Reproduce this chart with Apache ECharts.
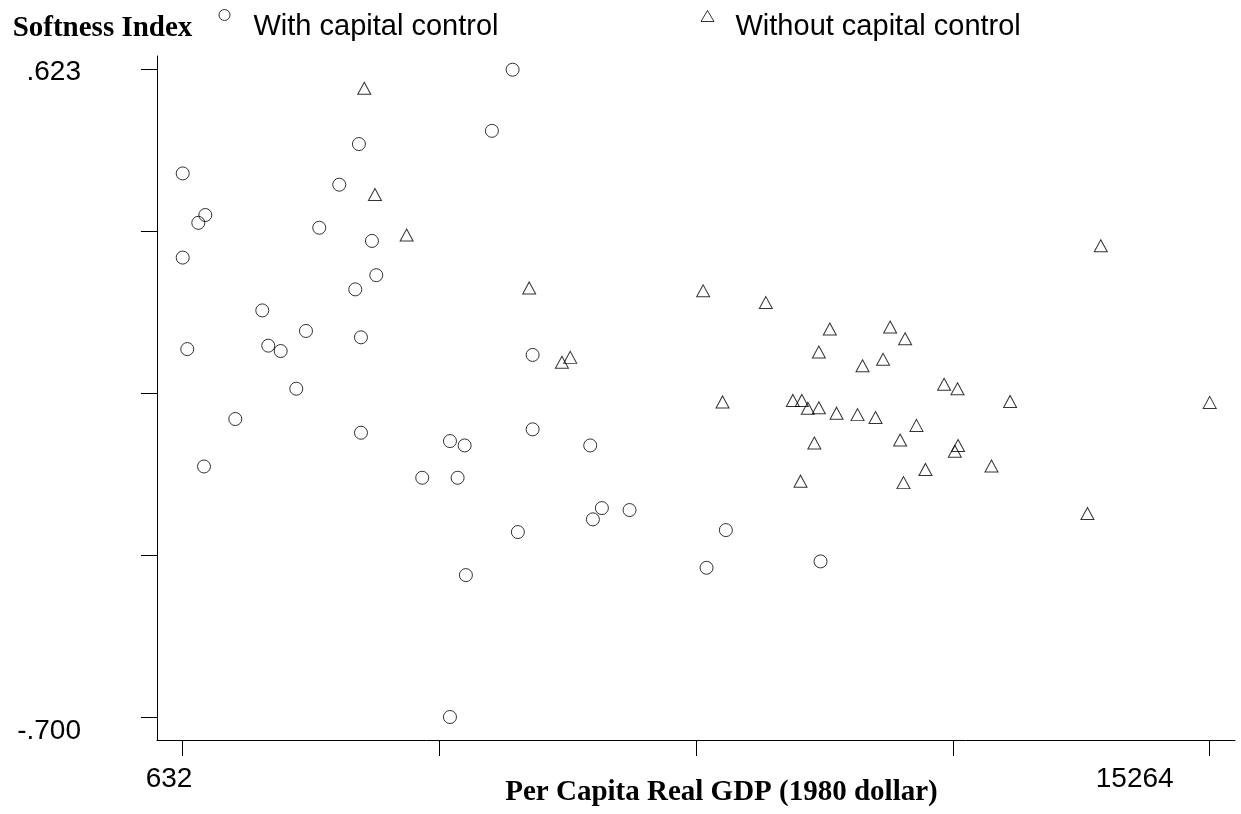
<!DOCTYPE html>
<html>
<head>
<meta charset="utf-8">
<script src="https://cdn.jsdelivr.net/npm/echarts@6/dist/echarts.min.js"></script>
<style>
html, body { margin: 0; padding: 0; background: #fff; }
#main { width: 1241px; height: 814px; }
</style>
</head>
<body>
<div id="main"></div>
<script>
// countries with capital control: per capita real GDP (1980 dollar) / softness index
const withGdp = [642, 964, 864, 642, 707, 945, 1391, 1775, 1860, 2037, 2259, 2397, 2586,
	2871, 3151, 3099, 3180, 3336, 3398, 3180, 4052, 4447, 4656, 4556, 4674, 4447, 5044,
	5339, 5414, 5624, 5624, 6444, 6482, 6610, 7004, 8100, 8375, 9723];
const withSoft = [0.411, 0.326, 0.310, 0.239, 0.052, -0.188, -0.091, 0.131, 0.059, 0.048, -0.029, 0.089, 0.300,
	0.388, 0.471, 0.174, 0.076, 0.273, 0.203, -0.119, -0.211, -0.136, -0.145, -0.211, -0.410, -0.700, 0.498,
	0.623, -0.322, 0.040, -0.112, -0.145, -0.296, -0.273, -0.277, -0.395, -0.318, -0.382];

// countries without capital control
const withoutGdp = [3227, 3379, 3830, 5575, 6041, 6159, 8052, 8328, 8944, 9329, 9457, 9542, 9699,
	9438, 9635, 9699, 9855, 9951, 10250, 10321, 10506, 10614, 10714, 10927, 10856, 10904, 11089,
	11217, 11482, 11673, 11681, 11635, 12157, 12422, 13523, 13713, 15264];
const withoutSoft = [0.585, 0.368, 0.285, 0.177, 0.025, 0.035, 0.171, -0.056, 0.147, -0.053, -0.053, -0.069, -0.068,
	-0.218, -0.140, 0.046, 0.093, -0.079, -0.082, 0.018, -0.088, 0.031, 0.097, 0.073, -0.134, -0.221, -0.104,
	-0.194, -0.020, -0.029, -0.145, -0.157, -0.187, -0.055, -0.284, 0.263, -0.057];

// axis ticks and the two labelled ends
const xTicks = [632, 4290, 7948, 11606, 15264];
const xLabelValues = [632, 15264];
const xLabels = ['632', '15264'];
const yTicks = [0.623, 0.29225, -0.0385, -0.36925, -0.7];
const yLabelValues = [0.623, -0.7];
const yLabels = ['.623', '-.700'];

const sans = 'Liberation Sans, Arial, sans-serif';
const serif = 'Liberation Serif, Times New Roman, serif';

const zip = (xs, ys) => xs.map((x, i) => [x, ys[i]]);

const myChart = echarts.init(document.getElementById('main'));

const markStyle = {
	color: 'rgba(255,255,255,0)',
	borderColor: '#000',
	borderWidth: 1
};

// legend icons sit high, above the middle of the text: the empty moveTo keeps the box tall
const circleIcon = 'path://M1.5,5.5A5.5,5.5,0,1,1,12.5,5.5A5.5,5.5,0,1,1,1.5,5.5ZM0,0M14,34';
const triangleIcon = 'path://M7,1L13.5,12L0.5,12ZM0,0M14,34';

const legendBase = (name, icon, left, padLeft) => ({
	data: [{ name: name, icon: icon }],
	left: left,
	top: 9,
	padding: 0,
	itemWidth: 14,
	itemHeight: 34,
	selectedMode: false,
	textStyle: {
		fontFamily: sans,
		fontSize: 29,
		color: '#000',
		padding: [0, 0, 0, padLeft]
	},
	itemStyle: { color: 'rgba(255,255,255,0)', borderColor: '#000', borderWidth: 1 }
});

const option = {
	animation: false,
	backgroundColor: '#fff',
	grid: { left: 157, right: 6, top: 56, bottom: 74, outerBoundsMode: 'none' },
	legend: [
		legendBase('With capital control', circleIcon, 217, 17),
		legendBase('Without capital control', triangleIcon, 700, 16)
	],
	xAxis: {
		type: 'value',
		min: 276,
		max: 15624,
		name: 'Per Capita Real GDP (1980 dollar)',
		nameLocation: 'middle',
		nameGap: 38,
		nameMoveOverlap: false,
		nameTextStyle: {
			fontFamily: serif,
			fontWeight: 'bold',
			fontSize: 29,
			color: '#000',
			lineHeight: 30,
			padding: [0, 0, 0, 51]
		},
		axisLine: { onZero: false, lineStyle: { color: '#000', width: 1 } },
		axisTick: { length: 16, customValues: xTicks, lineStyle: { color: '#000' } },
		splitLine: { show: false },
		axisLabel: {
			customValues: xLabelValues,
			margin: 25,
			formatter: (v) => {
				const i = xLabelValues.indexOf(v);
				return i === 0 ? '{a|' + xLabels[0] + '}' : '{b|' + xLabels[1] + '}';
			},
			rich: {
				a: { fontFamily: sans, fontSize: 28, color: '#000', lineHeight: 28, padding: [0, 26, 0, 0] },
				b: { fontFamily: sans, fontSize: 28, color: '#000', lineHeight: 28, padding: [0, 150, 0, 0] }
			}
		}
	},
	yAxis: {
		type: 'value',
		min: -0.747,
		max: 0.651,
		name: 'Softness Index',
		nameLocation: 'end',
		nameGap: 12,
		nameMoveOverlap: false,
		nameTextStyle: {
			fontFamily: serif,
			fontWeight: 'bold',
			fontSize: 29,
			color: '#000',
			lineHeight: 30,
			padding: [0, 109, 0, 0]
		},
		axisLine: { show: true, onZero: false, lineStyle: { color: '#000', width: 1 } },
		axisTick: { show: true, length: 16, customValues: yTicks, lineStyle: { color: '#000' } },
		splitLine: { show: false },
		axisLabel: {
			customValues: yLabelValues,
			margin: 76,
			formatter: (v) => {
				const i = yLabelValues.indexOf(v);
				return i === 0 ? '{t|' + yLabels[0] + '}' : '{b|' + yLabels[1] + '}';
			},
			rich: {
				t: { fontFamily: sans, fontSize: 28, color: '#000', lineHeight: 28, padding: [6, 0, 0, 0] },
				b: { fontFamily: sans, fontSize: 28, color: '#000', lineHeight: 28, padding: [28, 0, 0, 0] }
			}
		}
	},
	series: [
		{
			name: 'With capital control',
			type: 'scatter',
			symbol: 'circle',
			symbolSize: 13,
			itemStyle: markStyle,
			emphasis: { disabled: true },
			data: zip(withGdp, withSoft)
		},
		{
			name: 'Without capital control',
			type: 'scatter',
			symbol: 'triangle',
			symbolSize: [13, 12],
			itemStyle: markStyle,
			emphasis: { disabled: true },
			data: zip(withoutGdp, withoutSoft)
		}
	]
};

myChart.setOption(option);
</script>
</body>
</html>
